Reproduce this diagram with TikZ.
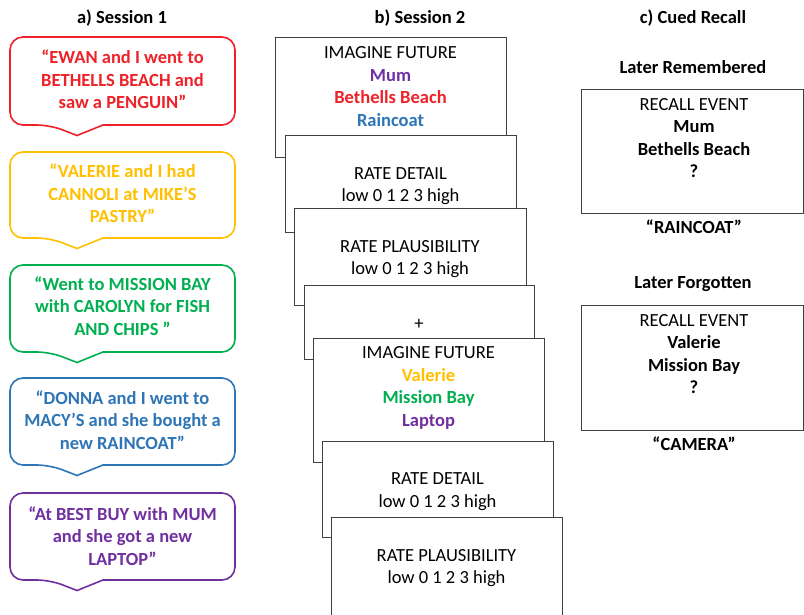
\documentclass[tikz,border=0pt]{standalone}
\usepackage{fontspec}
\setmainfont{Carlito}
\definecolor{cred}{HTML}{EE2229}
\definecolor{cyellow}{HTML}{FFC000}
\definecolor{cgreen}{HTML}{00B050}
\definecolor{cblue}{HTML}{2E75B6}
\definecolor{cpurple}{HTML}{7030A0}
\definecolor{cardline}{HTML}{404040}
\newcommand\sbubble[4]{% name, colour, top, bottom
  \draw[#2, line width=1.6pt, fill=white] (50,#4) -- (77,{#4+10.5}) -- (103,#4)
    [rounded corners=13] -- (235,#4) -- (235,#3) -- (10,#3) -- (10,#4) -- cycle;
  \coordinate (#1) at (122.5,{(#3+#4)/2});}
\begin{document}
\begin{tikzpicture}[x=1pt,y=-1pt,
  txt/.style={font=\fontsize{18.5}{22.5}\selectfont, align=center, inner sep=0pt},
  btxt/.style={txt, font=\fontsize{18.5}{22.5}\selectfont\bfseries},
  card/.style={draw=cardline, line width=0.8pt, fill=white},
  rbox/.style={draw=cardline, line width=0.9pt}]
\useasboundingbox (0,0) rectangle (804,614);

% titles
\node[btxt] (ta) at (122,18) {a) Session 1};
\node[btxt] (tb) at (420,18) {b) Session 2};
\node[btxt] (tc) at (693,18) {c) Cued Recall};

% Session 1 bubbles
\sbubble{b1}{cred}{37}{125}
\node[btxt, text=cred] (s1) at (122.5,79.5) {“EWAN and I went to\\BETHELLS BEACH and\\saw a PENGUIN”};
\sbubble{b2}{cyellow}{152}{238}
\node[btxt, text=cyellow] (s2) at (122.5,193.5) {“VALERIE and I had\\CANNOLI at MIKE’S\\PASTRY”};
\sbubble{b3}{cgreen}{265}{352}
\node[btxt, text=cgreen] (s3) at (122.5,306) {“Went to MISSION BAY\\with CAROLYN for FISH\\AND CHIPS ”};
\sbubble{b4}{cblue}{378}{465}
\node[btxt, text=cblue] (s4) at (122.5,420) {“DONNA and I went to\\MACY’S and she bought a\\new RAINCOAT”};
\sbubble{b5}{cpurple}{493}{580}
\node[btxt, text=cpurple] (s5) at (122.5,536) {“At BEST BUY with MUM\\and she got a new\\LAPTOP”};

% Session 2 cards
\draw[card] (275,37) rectangle (506,157);
\node[txt] (c1) at (390.5,86.5) {IMAGINE FUTURE\\\textbf{\textcolor{cpurple}{Mum}}\\\textbf{\textcolor{cred}{Bethells Beach}}\\\textbf{\textcolor{cblue}{Raincoat}}};
\draw[card] (285,135) rectangle (516,232);
\node[txt] (c2) at (400.5,186) {RATE DETAIL\\low 0 1 2 3 high};
\draw[card] (294,208) rectangle (526,305);
\node[txt] (c3) at (410,259) {RATE PLAUSIBILITY\\low 0 1 2 3 high};
\draw[card] (304,285) rectangle (534,359);
\node[txt] (c4) at (419,324) {+};
\draw[card] (313,338) rectangle (544,462);
\node[txt] (c5) at (428.5,388) {IMAGINE FUTURE\\\textbf{\textcolor{cyellow}{Valerie}}\\\textbf{\textcolor{cgreen}{Mission Bay}}\\\textbf{\textcolor{cpurple}{Laptop}}};
\draw[card] (322,441) rectangle (553,537);
\node[txt] (c6) at (437.5,491.5) {RATE DETAIL\\low 0 1 2 3 high};
\fill[white] (331,517) rectangle (562,614);
\draw[card] (331,616) -- (331,517) -- (562,517) -- (562,616);
\node[txt] (c7) at (446.5,568) {RATE PLAUSIBILITY\\low 0 1 2 3 high};

% Cued recall
\node[btxt] (lr) at (693,67) {Later Remembered};
\draw[rbox] (581,89) rectangle (803.5,213);
\node[txt] (r1) at (694,138) {RECALL EVENT\\\textbf{Mum}\\\textbf{Bethells Beach}\\\textbf{?}};
\node[btxt] (a1) at (694,227) {“RAINCOAT”};
\node[btxt] (lf) at (693,284) {Later Forgotten};
\draw[rbox] (581,305) rectangle (803.5,430);
\node[txt] (r2) at (694,354) {RECALL EVENT\\\textbf{Valerie}\\\textbf{Mission Bay}\\\textbf{?}};
\node[btxt] (a2) at (694,444) {“CAMERA”};
\end{tikzpicture}
\end{document}
